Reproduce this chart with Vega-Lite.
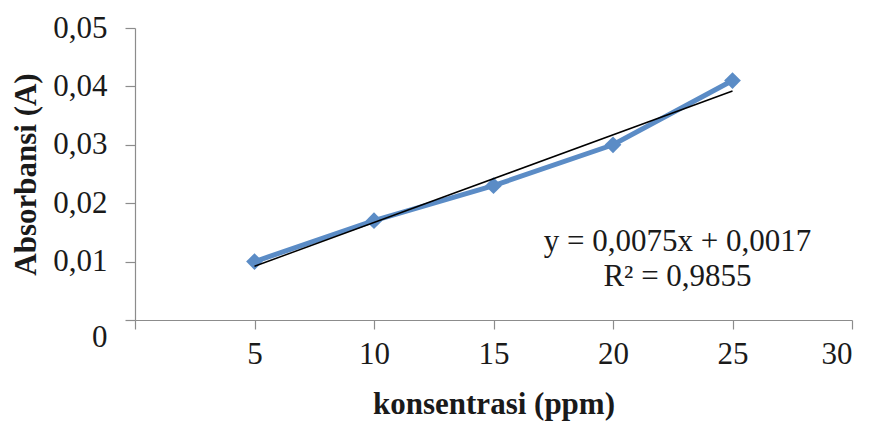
{
  "$schema": "https://vega.github.io/schema/vega-lite/v6.json",
  "width": 717,
  "height": 292,
  "autosize": {"type": "none"},
  "padding": {"left": 135, "top": 28, "right": 21, "bottom": 101},
  "background": "white",
  "config": {
    "view": {"stroke": null},
    "font": "Liberation Serif",
    "axis": {
      "labelFont": "Liberation Serif",
      "titleFont": "Liberation Serif",
      "labelFontSize": 31,
      "titleFontSize": 31,
      "titleFontWeight": "bold",
      "labelColor": "#1a1a1a",
      "titleColor": "#1a1a1a",
      "domainColor": "#8c8c8c",
      "tickColor": "#8c8c8c",
      "domainWidth": 1.2,
      "tickWidth": 1.2,
      "grid": false
    }
  },
  "datasets": {
    "points": [
      {"konsentrasi": 5, "absorbansi": 0.010},
      {"konsentrasi": 10, "absorbansi": 0.017},
      {"konsentrasi": 15, "absorbansi": 0.023},
      {"konsentrasi": 20, "absorbansi": 0.030},
      {"konsentrasi": 25, "absorbansi": 0.041}
    ],
    "notes": [
      {"konsentrasi": 22.7, "absorbansi": 0.0134, "label": "y = 0,0075x + 0,0017"},
      {"konsentrasi": 22.7, "absorbansi": 0.0074, "label": "R² = 0,9855"}
    ]
  },
  "layer": [
    {
      "data": {"name": "points"},
      "mark": {"type": "line", "color": "#5b8cc6", "strokeWidth": 5, "point": {"shape": "diamond", "size": 280, "filled": true, "color": "#5b8cc6"}},
      "encoding": {
        "x": {
          "field": "konsentrasi", "type": "quantitative",
          "scale": {"domain": [0, 30], "nice": false, "zero": true},
          "axis": {
            "title": "konsentrasi (ppm)",
            "values": [0, 5, 10, 15, 20, 25, 30],
            "labelExpr": "datum.value == 0 ? '' : datum.label",
            "tickSize": 9,
            "labelPadding": 10,
            "titlePadding": 20
          }
        },
        "y": {
          "field": "absorbansi", "type": "quantitative",
          "scale": {"domain": [0, 0.05], "nice": false},
          "axis": {
            "title": "Absorbansi (A)",
            "values": [0, 0.01, 0.02, 0.03, 0.04, 0.05],
            "labelExpr": "datum.value == 0 ? '0' : replace(format(datum.value, '.2f'), '.', ',')",
            "labelOffset": {"condition": {"test": "datum.value == 0", "value": 17}, "value": 0},
            "tickSize": 10,
            "labelPadding": 18,
            "titlePadding": 10
          }
        }
      }
    },
    {
      "data": {"name": "points"},
      "transform": [{"regression": "absorbansi", "on": "konsentrasi"}],
      "mark": {"type": "line", "color": "#000000", "strokeWidth": 1.5},
      "encoding": {
        "x": {"field": "konsentrasi", "type": "quantitative"},
        "y": {"field": "absorbansi", "type": "quantitative"}
      }
    },
    {
      "data": {"name": "notes"},
      "mark": {"type": "text", "font": "Liberation Serif", "fontSize": 31, "color": "#1a1a1a", "align": "center", "baseline": "middle"},
      "encoding": {
        "x": {"field": "konsentrasi", "type": "quantitative"},
        "y": {"field": "absorbansi", "type": "quantitative"},
        "text": {"field": "label"}
      }
    }
  ]
}
